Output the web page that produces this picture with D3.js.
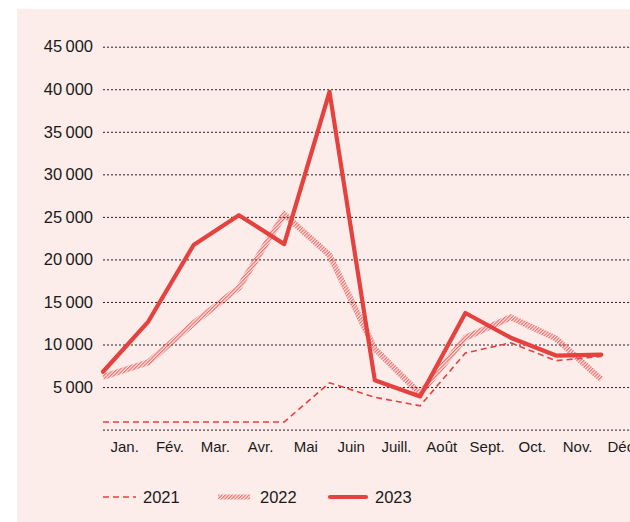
<!DOCTYPE html>
<html>
<head>
<meta charset="utf-8">
<script src="https://cdn.jsdelivr.net/npm/d3@7.9.0/dist/d3.min.js"></script>
<style>
  html, body { margin: 0; padding: 0; background: #fff; }
  svg { display: block; font-family: "Liberation Sans", Arial, sans-serif; }
</style>
</head>
<body>
<div id="chart"></div>
<script>
const months = ['Jan.', 'Fév.', 'Mar.', 'Avr.', 'Mai', 'Juin', 'Juill.', 'Août', 'Sept.', 'Oct.', 'Nov.', 'Déc.'];
const years = ['2021', '2022', '2023'];

const values2021 = [900, 900, 900, 900, 900, 5500, 3800, 2800, 9000, 10200, 8100, 8600];
const values2022 = [6200, 7900, 12500, 16700, 25300, 20500, 9500, 4200, 10800, 13200, 10700, 5900];
const values2023 = [6800, 12700, 21700, 25200, 21800, 39700, 5800, 3900, 13700, 10800, 8700, 8800];

const yTicks = [0, 5000, 10000, 15000, 20000, 25000, 30000, 35000, 40000, 45000];

const width = 630;
const height = 522;
const red = '#e4413f';

const svg = d3.select('#chart')
  .append('svg')
  .attr('width', width)
  .attr('height', height);

// hatch for 2022
const defs = svg.append('defs');
const hatch = defs.append('pattern')
  .attr('id', 'hatch')
  .attr('patternUnits', 'userSpaceOnUse')
  .attr('width', 2.4)
  .attr('height', 2.4)
  .attr('patternTransform', 'rotate(45)');
hatch.append('rect')
  .attr('width', 1.2)
  .attr('height', 2.4)
  .attr('fill', red)
  .attr('fill-opacity', 0.75);

svg.append('rect')
  .attr('x', 17).attr('y', 9)
  .attr('width', width - 17).attr('height', height - 9)
  .attr('fill', '#fdedea');

const x = d3.scaleBand()
  .domain(months)
  .range([103, 103 + 12 * 45.3])
  .padding(0);

const y = d3.scaleLinear()
  .domain([0, 45000])
  .range([429.6, 46.7]);

const fmt = d => d === 0 ? '' : d3.format(',')(d).replace(',', '\u2009');

// gridlines + y labels
const yAxis = svg.append('g')
  .attr('transform', 'translate(103,0)')
  .call(d3.axisLeft(y).tickValues(yTicks).tickSize(-(width - 103)).tickPadding(10).tickFormat(fmt));
yAxis.select('.domain').remove();
yAxis.selectAll('.tick line')
  .attr('stroke', '#222')
  .attr('stroke-width', 1)
  .attr('stroke-dasharray', '2,2');
yAxis.selectAll('.tick text')
  .attr('fill', '#1a1a1a')
  .style('font-size', '16.5px')
  .style('font-family', '"Liberation Sans", Arial, sans-serif');

// x labels
const xAxis = svg.append('g')
  .attr('transform', 'translate(-1,437)')
  .call(d3.axisBottom(x).tickSize(0).tickPadding(4));
xAxis.select('.domain').remove();
xAxis.selectAll('.tick text')
  .attr('fill', '#1a1a1a')
  .style('font-size', '15px')
  .style('font-family', '"Liberation Sans", Arial, sans-serif');

const line = d3.line()
  .x((d, i) => x(months[i]))
  .y(d => y(d));

svg.append('path')
  .datum(values2021)
  .attr('d', line)
  .attr('fill', 'none')
  .attr('stroke', red)
  .attr('stroke-width', 1.6)
  .attr('stroke-dasharray', '6,4');

svg.append('path')
  .datum(values2022)
  .attr('d', line)
  .attr('fill', 'none')
  .attr('stroke', 'url(#hatch)')
  .attr('stroke-width', 6);

svg.append('path')
  .datum(values2023)
  .attr('d', line)
  .attr('fill', 'none')
  .attr('stroke', red)
  .attr('stroke-width', 4.2)
  .attr('stroke-linecap', 'round')
  .attr('stroke-linejoin', 'round');

// legend
const legendY = 497;
const legend = svg.append('g');
const items = [
  { year: years[0], x0: 103, x1: 136, tx: 143 },
  { year: years[1], x0: 218, x1: 250, tx: 260 },
  { year: years[2], x0: 330, x1: 366, tx: 375 }
];
items.forEach((it, i) => {
  const l = legend.append('line')
    .attr('x1', it.x0).attr('x2', it.x1)
    .attr('y1', legendY).attr('y2', legendY)
    .attr('fill', 'none');
  if (i === 0) l.attr('stroke', red).attr('stroke-width', 1.6).attr('stroke-dasharray', '6,4');
  if (i === 1) l.attr('stroke', 'url(#hatch)').attr('stroke-width', 5);
  if (i === 2) l.attr('stroke', red).attr('stroke-width', 4.2).attr('stroke-linecap', 'round');
  legend.append('text')
    .attr('x', it.tx)
    .attr('y', legendY)
    .attr('dy', '0.35em')
    .attr('fill', '#1a1a1a')
    .style('font-size', '16.5px')
    .text(it.year);
});
</script>
</body>
</html>
